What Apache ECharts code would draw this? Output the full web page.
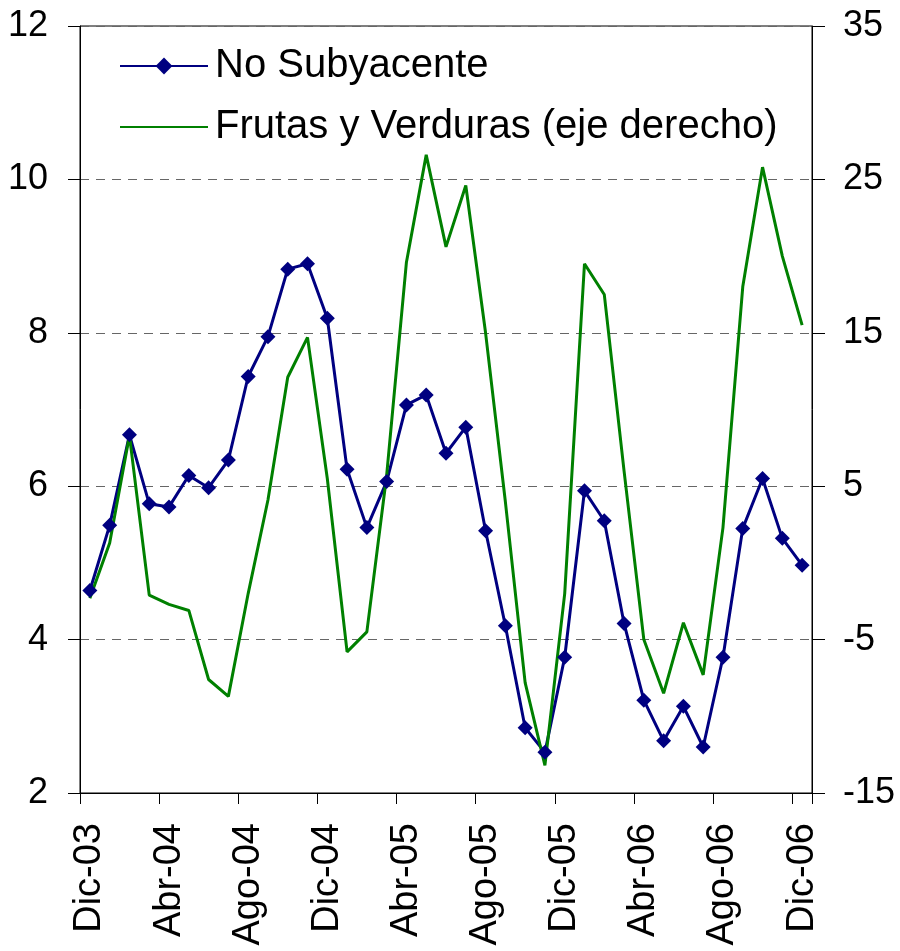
<!DOCTYPE html>
<html>
<head>
<meta charset="utf-8">
<script src="https://cdn.jsdelivr.net/npm/echarts@6/dist/echarts.min.js"></script>
<style>
  html, body { margin: 0; padding: 0; background: #fff; }
  #chart { width: 900px; height: 951px; }
</style>
</head>
<body>
<div id="chart"></div>
<script>
// meses Dic-03 .. Dic-06
const months = [
  'Dic-03', 'Ene-04', 'Feb-04', 'Mar-04', 'Abr-04', 'May-04', 'Jun-04', 'Jul-04',
  'Ago-04', 'Sep-04', 'Oct-04', 'Nov-04', 'Dic-04', 'Ene-05', 'Feb-05', 'Mar-05',
  'Abr-05', 'May-05', 'Jun-05', 'Jul-05', 'Ago-05', 'Sep-05', 'Oct-05', 'Nov-05',
  'Dic-05', 'Ene-06', 'Feb-06', 'Mar-06', 'Abr-06', 'May-06', 'Jun-06', 'Jul-06',
  'Ago-06', 'Sep-06', 'Oct-06', 'Nov-06', 'Dic-06'
]

// eje izquierdo
const noSubyacente = [
  4.64, 5.49, 6.67, 5.77, 5.73, 6.14, 5.98, 6.34,
  7.43, 7.95, 8.83, 8.90, 8.19, 6.22, 5.46, 6.06,
  7.06, 7.19, 6.43, 6.77, 5.42, 4.18, 2.85, 2.53,
  3.77, 5.94, 5.55, 4.21, 3.21, 2.68, 3.13, 2.60,
  3.77, 5.45, 6.10, 5.32, 4.97
]

// eje derecho
const frutasVerduras = [
  -2.3, 1.3, 8.3, -2.1, -2.7, -3.1, -7.6, -8.7,
  -2.0, 4.1, 12.1, 14.7, 5.5, -5.8, -4.5, 5.7,
  19.6, 26.6, 20.6, 24.6, 15.0, 4.0, -7.8, -13.2,
  -2.0, 19.5, 17.5, 6.0, -5.0, -8.5, -3.9, -7.3,
  2.3, 18.0, 25.8, 20.0, 15.5
]

const FONT = 'Liberation Sans, Arial, sans-serif'

const chart = echarts.init(document.getElementById('chart'))
chart.setOption({
  animation: false,
  backgroundColor: '#fff',
  grid: {
    left: 80, right: 88, top: 26, bottom: 158,
    outerBoundsMode: 'none',
    show: true, borderColor: '#000', borderWidth: 1
  },
  legend: {
    orient: 'vertical',
    left: 119, top: 46,
    padding: 0,
    itemWidth: 88, itemHeight: 21, itemGap: 21,
    textStyle: { fontFamily: FONT, fontSize: 40, lineHeight: 40, color: '#000', padding: [0, 0, 0, 2] },
    data: [
      { name: 'No Subyacente' },
      { name: 'Frutas y Verduras (eje derecho)', itemStyle: { opacity: 0 } }
    ]
  },
  xAxis: {
    type: 'category',
    data: months,
    boundaryGap: true,
    axisLine: { onZero: false, lineStyle: { color: '#000', width: 1 } },
    axisTick: { show: true, interval: 3, length: 11, lineStyle: { color: '#000', width: 1 } },
    axisLabel: { interval: 3, rotate: 90, margin: 30, fontFamily: FONT, fontSize: 38, color: '#000' },
    splitLine: { show: false }
  },
  yAxis: [
    {
      type: 'value', position: 'left',
      min: 2, max: 12, interval: 2,
      axisLine: { show: true, lineStyle: { color: '#000', width: 1 } },
      axisTick: { show: true, length: 12, lineStyle: { color: '#000' } },
      axisLabel: { margin: 32, fontFamily: FONT, fontSize: 36, color: '#000' },
      splitLine: { show: true, lineStyle: { color: '#666', width: 1.2, type: [9, 7] } }
    },
    {
      type: 'value', position: 'right',
      min: -15, max: 35, interval: 10,
      axisLine: { show: true, lineStyle: { color: '#000', width: 1 } },
      axisTick: { show: true, length: 13, lineStyle: { color: '#000' } },
      axisLabel: { margin: 31, fontFamily: FONT, fontSize: 36, color: '#000' },
      splitLine: { show: false }
    }
  ],
  series: [
    {
      name: 'No Subyacente',
      type: 'line',
      yAxisIndex: 0,
      data: noSubyacente,
      symbol: 'diamond',
      symbolSize: 15,
      showAllSymbol: true,
      lineStyle: { color: '#000080', width: 3 },
      itemStyle: { color: '#000080' }
    },
    {
      name: 'Frutas y Verduras (eje derecho)',
      type: 'line',
      yAxisIndex: 1,
      data: frutasVerduras,
      symbol: 'none',
      lineStyle: { color: '#008000', width: 3 },
      itemStyle: { color: '#008000' }
    }
  ]
})
</script>
</body>
</html>
